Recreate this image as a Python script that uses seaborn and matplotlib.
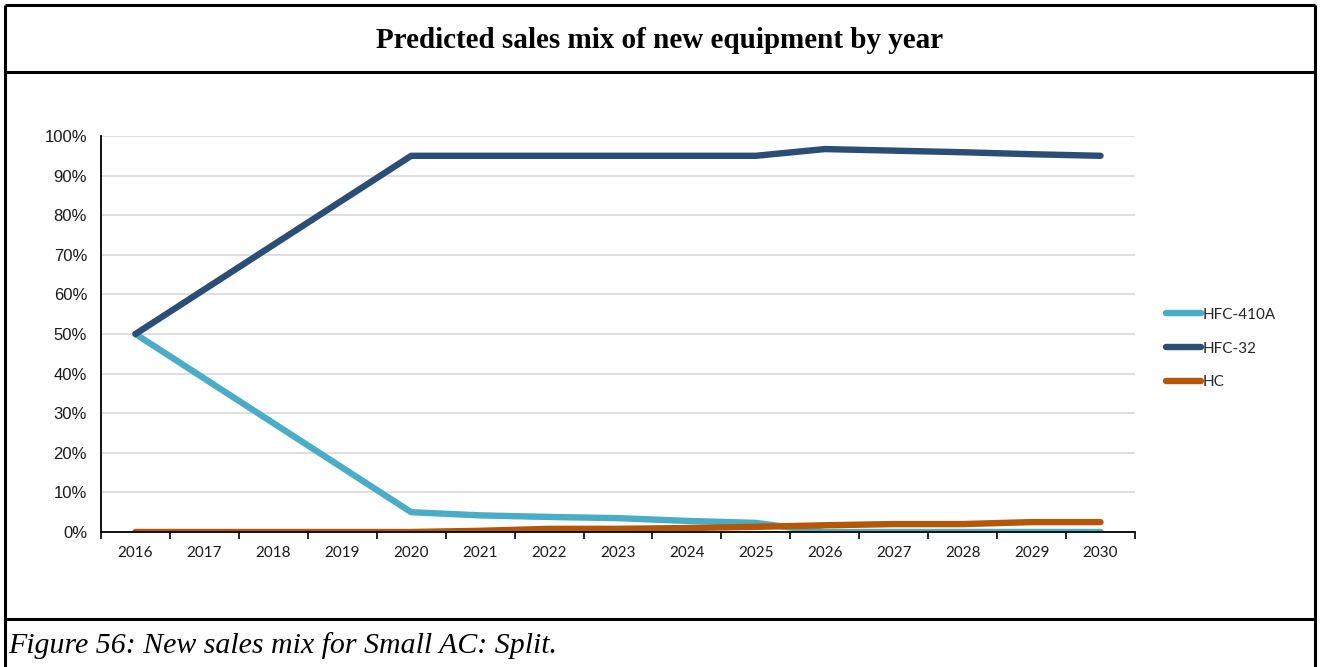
import numpy as np
import pandas as pd
import matplotlib
matplotlib.use("Agg")
import matplotlib.pyplot as plt
from matplotlib.lines import Line2D
from matplotlib.ticker import FixedLocator, PercentFormatter
import seaborn as sns

# Sales-mix shares (%) of new small split AC equipment by year
years = ["2016", "2017", "2018", "2019", "2020", "2021", "2022", "2023",
         "2024", "2025", "2026", "2027", "2028", "2029", "2030"]
hfc_410a = [50, 38.75, 27.5, 16.25, 5, 4.2, 3.8, 3.5, 2.8, 2.3, 0, 0, 0, 0, 0]
hfc_32 = [50, 61.25, 72.5, 83.75, 95, 95, 95, 95, 95, 95, 96.7, 96.3, 95.9, 95.4, 95.0]
hc = [0, 0, 0, 0, 0, 0.3, 0.8, 0.8, 1.0, 1.3, 1.7, 2.0, 2.0, 2.5, 2.5]

series_names = ["HFC-410A", "HFC-32", "HC"]
series_colors = ["#4BACC6", "#2C4D75", "#B65708"]

df = pd.DataFrame({
    "year": years * 3,
    "share": hfc_410a + hfc_32 + hc,
    "refrigerant": np.repeat(series_names, len(years)),
})
df["pos"] = np.tile(np.arange(len(years)), 3)

sns.set_theme(style="white")
plt.rcParams["font.family"] = ["Liberation Sans", "DejaVu Sans"]

W, H = 1323, 667
fig = plt.figure(figsize=(W / 100, H / 100), dpi=100)
fig.patch.set_facecolor("white")

ax = fig.add_axes([101 / W, 1 - 532 / H, (1135 - 101) / W, (532 - 136) / H])

LW = 4.6
sns.lineplot(data=df, x="pos", y="share", hue="refrigerant",
             hue_order=series_names, palette=series_colors,
             linewidth=LW, ax=ax, legend=False, sort=False)
for ln in ax.get_lines():
    ln.set_solid_capstyle("round")
    ln.set_solid_joinstyle("round")

ax.set_xlim(-0.5, len(years) - 0.5)
ax.set_ylim(0, 100)
ax.set_xlabel("")
ax.set_ylabel("")

# y axis: percentages with light horizontal gridlines
ax.set_yticks(np.arange(0, 101, 10))
ax.yaxis.set_major_formatter(PercentFormatter(decimals=0))
ax.tick_params(axis="y", length=0, pad=10, labelsize=12, labelcolor="#1a1a1a")
ax.grid(axis="y", color="#D9D9D9", linewidth=1.2)
ax.set_axisbelow(True)

# x axis: category labels centred, tick marks between categories
ax.set_xticks(np.arange(len(years)))
ax.set_xticklabels(years, fontfamily="Lato", fontsize=11, color="#1a1a1a")
ax.xaxis.set_minor_locator(FixedLocator(np.arange(-0.5, len(years), 1.0)))
ax.tick_params(axis="x", which="major", length=0, pad=10)
ax.tick_params(axis="x", which="minor", length=5, width=1.2, color="black",
               direction="out", bottom=True)

for side in ["top", "right"]:
    ax.spines[side].set_visible(False)
for side in ["left", "bottom"]:
    ax.spines[side].set_color("black")
    ax.spines[side].set_linewidth(1.3)

# legend to the right of the plot
handles = [Line2D([0], [0], color=c, linewidth=LW, solid_capstyle="round")
           for c in series_colors]
fig.legend(handles, series_names, loc="upper left",
           bbox_to_anchor=(1152 / W, 1 - 294 / H), frameon=False,
           handlelength=2.3, handletextpad=0.1, labelspacing=1.3,
           prop={"family": "Lato", "size": 11})

# framed layout: title row, chart body, caption row
border_kw = dict(color="black", linewidth=2.2, transform=fig.transFigure,
                 solid_capstyle="butt")
xl, xr = 5 / W, 1315 / W
for y in [5, 72, 619]:
    fig.add_artist(Line2D([xl, xr], [1 - y / H, 1 - y / H], **border_kw))
for x in [xl, xr]:
    fig.add_artist(Line2D([x, x], [1 - 5 / H, 0], **border_kw))

fig.text(660 / W, 1 - 40 / H, "Predicted sales mix of new equipment by year",
         ha="center", va="center", fontsize=21, fontweight="bold",
         family="Liberation Serif", color="black")
fig.text(8 / W, 1 - 646 / H, "Figure 56: New sales mix for Small AC: Split.",
         ha="left", va="center", fontsize=21.5, style="italic",
         family="Liberation Serif", color="black")

fig.savefig("out.png", dpi=100, facecolor="white")
